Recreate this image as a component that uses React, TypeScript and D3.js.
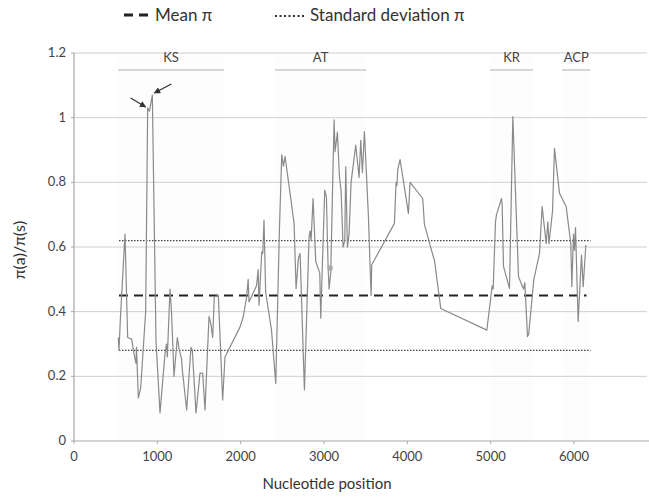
import React from 'react';
import * as d3 from 'd3';

// nucleotide position of each sliding window and its pi(a)/pi(s)
const position = [
  532, 540, 555, 612, 644, 692, 720, 735, 744, 750, 772, 800, 860, 884, 905, 940, 984, 1032,
  1092, 1110, 1120, 1152, 1170, 1200, 1240, 1264, 1290, 1300, 1352, 1404, 1420, 1464, 1512,
  1544, 1572, 1620, 1644, 1664, 1684, 1732, 1784, 1812, 1993, 2032, 2072, 2090, 2100, 2190,
  2210, 2220, 2253, 2265, 2280, 2300, 2370, 2421, 2465, 2493, 2513, 2533, 2641, 2665, 2693,
  2713, 2765, 2821, 2833, 2845, 2869, 2901, 2949, 2961, 2975, 3009, 3029, 3049, 3061, 3081,
  3121, 3133, 3161, 3185, 3205, 3229, 3249, 3261, 3281, 3301, 3325, 3381, 3421, 3441, 3461,
  3485, 3533, 3565, 3573, 3845, 3865, 3875, 3885, 3913, 4013, 4033, 4185, 4205, 4317, 4325,
  4401, 4954, 5018, 5030, 5058, 5070, 5130, 5138, 5154, 5226, 5266, 5334, 5394, 5410, 5442,
  5456, 5518, 5586, 5618, 5666, 5686, 5700, 5742, 5766, 5826, 5906, 5962, 5974, 5994, 6006,
  6018, 6050, 6090, 6110, 6142
];
const piRatio = [
  0.32, 0.28, 0.37, 0.64, 0.32, 0.315, 0.27, 0.25, 0.24, 0.29, 0.133, 0.164, 0.40, 1.03, 1.02, 1.07, 0.31, 0.087,
  0.27, 0.30, 0.26, 0.47, 0.40, 0.20, 0.32, 0.28, 0.255, 0.22, 0.096, 0.29, 0.28, 0.087, 0.21,
  0.21, 0.096, 0.385, 0.36, 0.32, 0.447, 0.45, 0.127, 0.26, 0.353, 0.385, 0.446, 0.50, 0.43, 0.48,
  0.53, 0.42, 0.585, 0.58, 0.683, 0.46, 0.343, 0.178, 0.653, 0.885, 0.85, 0.88, 0.673, 0.472, 0.565,
  0.58, 0.158, 0.632, 0.65, 0.62, 0.75, 0.555, 0.52, 0.38, 0.50, 0.776, 0.755, 0.54, 0.47, 0.52,
  0.993, 0.895, 0.955, 0.818, 0.775, 0.60, 0.62, 0.848, 0.60, 0.64, 0.80, 0.915, 0.815, 0.93, 0.83,
  0.957, 0.694, 0.45, 0.545, 0.673, 0.80, 0.79, 0.84, 0.87, 0.704, 0.80, 0.75, 0.67, 0.565, 0.56,
  0.41, 0.343, 0.48, 0.47, 0.678, 0.70, 0.75, 0.73, 0.54, 0.472, 1.003, 0.508, 0.47, 0.49, 0.323,
  0.33, 0.50, 0.58, 0.725, 0.61, 0.678, 0.61, 0.71, 0.905, 0.766, 0.725, 0.61, 0.477, 0.64, 0.59,
  0.66, 0.37, 0.575, 0.477, 0.606
];

const meanPi = 0.45;
const sdPi = [0.28, 0.62];
const refStart = 540;
const refEnd = 6150;

const domains = ['KS', 'AT', 'KR', 'ACP'];
const domainStart = [528, 2413, 4993, 5858];
const domainEnd = [1800, 3505, 5510, 6195];

const xTicks = [0, 1000, 2000, 3000, 4000, 5000, 6000];
const yTicks = [0, 0.2, 0.4, 0.6, 0.8, 1, 1.2];
const yTickLabels = ['0', '0.2', '0.4', '0.6', '0.8', '1', '1.2'];

// the two highlighted peaks (arrows) and the odd gray dot
const arrowPeaks = [13, 15];
const dotPoint = { pos: 3073, val: 0.535 };

const W = 649, H = 498;
const font = 'Lato, "Open Sans", sans-serif';

export default function App() {
  const x = d3.scaleLinear().domain([0, 6900]).range([74, 649]);
  const y = d3.scaleLinear().domain([0, 1.2]).range([441, 53]);

  const pts: [number, number][] = position.map((p, i) => [p, piRatio[i]]);
  const line = d3.line<[number, number]>().x(d => x(d[0])).y(d => y(d[1]));

  const a1 = { x: x(position[arrowPeaks[0]]), y: y(piRatio[arrowPeaks[0]]) };
  const a2 = { x: x(position[arrowPeaks[1]]), y: y(piRatio[arrowPeaks[1]]) };

  return (
    <svg width={W} height={H} style={{ position: 'absolute', left: 0, top: 0, background: '#fff' }}
      fontFamily={font}>
      <defs>
        <marker id="arr" viewBox="0 0 10 10" refX="9" refY="5" markerWidth="5" markerHeight="5" orient="auto">
          <path d="M0,0 L10,5 L0,10 z" fill="#333" />
        </marker>
      </defs>

      {/* very faint shading of the domain regions */}
      {domains.map((d, i) => (
        <rect key={'bg' + d} x={x(domainStart[i])} y={y(1.2)} width={x(domainEnd[i]) - x(domainStart[i])}
          height={y(0) - y(1.2)} fill="#fdfdfd" />
      ))}

      {/* grid */}
      {yTicks.slice(1).map(t => (
        <line key={'g' + t} x1={x(0)} x2={W - 2} y1={y(t)} y2={y(t)} stroke="#cfcfcf" strokeWidth={1} />
      ))}

      {/* axes */}
      <line x1={x(0)} x2={W} y1={y(0)} y2={y(0)} stroke="#a8a8a8" strokeWidth={1.2} />
      <line x1={x(0)} x2={x(0)} y1={y(0)} y2={y(1.2)} stroke="#a8a8a8" strokeWidth={1.2} />
      {xTicks.map(t => (
        <g key={'xt' + t}>
          <line x1={x(t)} x2={x(t)} y1={y(0)} y2={y(0) + 3} stroke="#a8a8a8" />
          <text x={x(t)} y={461} textAnchor="middle" fontSize={13} fill="#444">{t}</text>
        </g>
      ))}
      {yTicks.map((t, i) => (
        <g key={'yt' + t}>
          <line x1={x(0) - 3} x2={x(0)} y1={y(t)} y2={y(t)} stroke="#a8a8a8" />
          <text x={66} y={y(t) + 4} textAnchor="end" fontSize={13} fill="#444">{yTickLabels[i]}</text>
        </g>
      ))}
      <text x={327} y={489} textAnchor="middle" fontSize={15} fill="#333">Nucleotide position</text>
      <text transform={`translate(25,250) rotate(-90)`} textAnchor="middle" fontSize={16} fill="#333">π(a)/π(s)</text>

      {/* domains */}
      {domains.map((d, i) => (
        <g key={d}>
          <line x1={x(domainStart[i])} x2={x(domainEnd[i])} y1={70} y2={70} stroke="#c8c8c8" strokeWidth={1.5} />
          <text x={(x(domainStart[i]) + x(domainEnd[i])) / 2} y={62}
            textAnchor="middle" fontSize={13} fill="#444">{d}</text>
        </g>
      ))}

      {/* mean and sd references */}
      <line x1={x(refStart)} x2={x(refEnd)} y1={y(meanPi)} y2={y(meanPi)} stroke="#222"
        strokeWidth={2.2} strokeDasharray="9,6" />
      {sdPi.map(s => (
        <line key={'sd' + s} x1={x(refStart)} x2={x(refEnd) + 4} y1={y(s)} y2={y(s)} stroke="#444"
          strokeWidth={1.3} strokeDasharray="1.5,1.5" />
      ))}

      {/* series */}
      <path d={line(pts) || ''} fill="none" stroke="#8a8a8a" strokeWidth={1.2} strokeLinejoin="round" />
      <circle cx={x(dotPoint.pos)} cy={y(dotPoint.val)} r={2.8} fill="#aaa" />

      {/* arrows at the two KS peaks */}
      <line x1={a1.x - 17} y1={a1.y - 10} x2={a1.x - 2} y2={a1.y - 1} stroke="#333" strokeWidth={1.3} markerEnd="url(#arr)" />
      <line x1={a2.x + 19} y1={a2.y - 11} x2={a2.x + 2} y2={a2.y - 2} stroke="#333" strokeWidth={1.3} markerEnd="url(#arr)" />

      {/* legend */}
      <line x1={124} x2={150} y1={15} y2={15} stroke="#222" strokeWidth={3} strokeDasharray="9,6" />
      <text x={155} y={21} fontSize={17} fill="#333">Mean π</text>
      <line x1={275} x2={304} y1={16} y2={16} stroke="#333" strokeWidth={2} strokeDasharray="2,2.5" />
      <text x={310} y={21} fontSize={17} fill="#333">Standard deviation π</text>
    </svg>
  );
}
